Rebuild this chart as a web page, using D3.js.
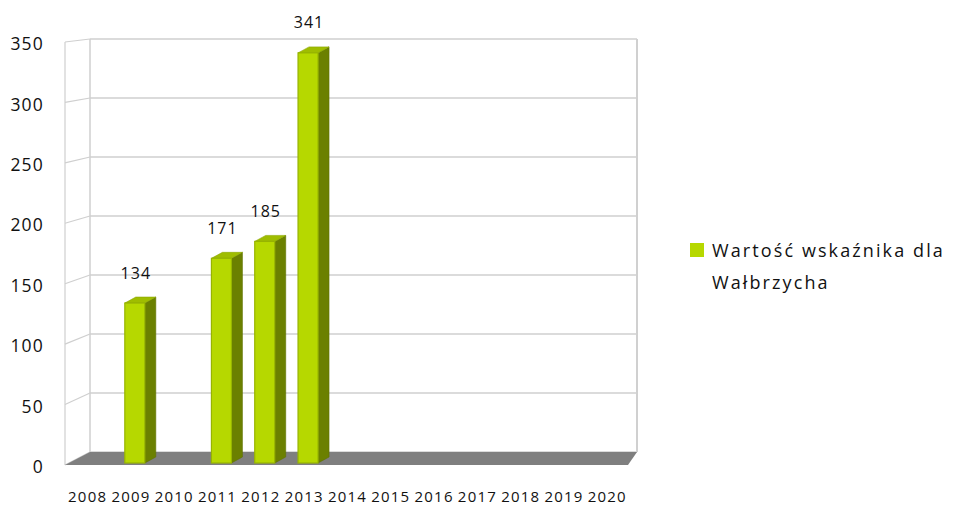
<!DOCTYPE html>
<html>
<head>
<meta charset="utf-8">
<script src="https://cdn.jsdelivr.net/npm/d3@7"></script>
<style>
  html, body { margin: 0; padding: 0; background: #fff; }
  svg { display: block; font-family: "Open Sans", "Liberation Sans", sans-serif; }
</style>
</head>
<body>
<svg id="chart" width="960" height="505"></svg>
<script>
// ---- data ----
const years = ["2008","2009","2010","2011","2012","2013","2014","2015","2016","2017","2018","2019","2020"];
const values = [null, 134, null, 171, 185, 341, null, null, null, null, null, null, null];
const yTicks = [0, 50, 100, 150, 200, 250, 300, 350];
const legendLines = ["Wartość wskaźnika dla", "Wałbrzycha"];

// ---- layout ----
const svg = d3.select("#chart");
const frontLeft = 65, frontRight = 628, backLeft = 90, backRight = 637;
const xFront = d3.scaleBand().domain(years).range([frontLeft, frontRight]);
const yFront = d3.scaleLinear().domain([0, 350]).range([465, 42]);
const yBack  = d3.scaleLinear().domain([0, 350]).range([452, 39]);

const gridColor = "#cfcfcf";
const textColor = "#111";

// back wall gridlines
svg.append("g").selectAll("line").data(yTicks).join("line")
  .attr("x1", backLeft).attr("x2", backRight)
  .attr("y1", d => yBack(d)).attr("y2", d => yBack(d))
  .attr("stroke", gridColor).attr("stroke-width", 1.5);

// left wall gridlines
svg.append("g").selectAll("line").data(yTicks).join("line")
  .attr("x1", frontLeft).attr("x2", backLeft)
  .attr("y1", d => yFront(d)).attr("y2", d => yBack(d))
  .attr("stroke", gridColor).attr("stroke-width", 1.2);

// wall verticals
svg.append("line").attr("x1", frontLeft).attr("x2", frontLeft)
  .attr("y1", yFront(350)).attr("y2", yFront(0))
  .attr("stroke", gridColor).attr("stroke-width", 1.2);
svg.append("line").attr("x1", backLeft).attr("x2", backLeft)
  .attr("y1", yBack(350)).attr("y2", yBack(0))
  .attr("stroke", gridColor).attr("stroke-width", 1.5);
svg.append("line").attr("x1", backRight).attr("x2", backRight)
  .attr("y1", yBack(350)).attr("y2", yBack(0))
  .attr("stroke", "#d0d0d0").attr("stroke-width", 2);

// floor
svg.append("polygon")
  .attr("points", [[backLeft, yBack(0)], [backRight, yBack(0)], [frontRight, yFront(0)], [frontLeft, yFront(0)]].map(p => p.join(",")).join(" "))
  .attr("fill", "#7f7f7f");

// bars
const barOff = 16.5, barW = 20, dx = 11, dy = -6, barBottom = yFront(0) - 2;
const data = years.map((y, i) => ({ year: y, value: values[i] })).filter(d => d.value != null);
const bars = svg.append("g").selectAll("g").data(data).join("g");

bars.append("polygon") // side
  .attr("points", d => {
    const x1 = xFront(d.year) + barOff + barW, t = yFront(d.value);
    return [[x1, t], [x1 + dx, t + dy], [x1 + dx, barBottom + dy], [x1, barBottom]].map(p => p.join(",")).join(" ");
  })
  .attr("fill", "#6b8000").attr("stroke", "#5f7200").attr("stroke-width", 0.6).attr("stroke-linejoin", "round");

bars.append("polygon") // top
  .attr("points", d => {
    const x0 = xFront(d.year) + barOff, x1 = x0 + barW, t = yFront(d.value);
    return [[x0, t], [x0 + dx, t + dy], [x1 + dx, t + dy], [x1, t]].map(p => p.join(",")).join(" ");
  })
  .attr("fill", "#9fbd00").attr("stroke", "#8ca600").attr("stroke-width", 0.6).attr("stroke-linejoin", "round");

bars.append("rect") // front
  .attr("x", d => xFront(d.year) + barOff)
  .attr("y", d => yFront(d.value))
  .attr("width", barW)
  .attr("height", d => barBottom - yFront(d.value))
  .attr("fill", "#b6d800").attr("stroke", "#97b400").attr("stroke-width", 1.2);

// data labels
svg.append("g").selectAll("text").data(data).join("text")
  .attr("x", d => xFront(d.year) + barOff + barW / 2 + 1)
  .attr("y", d => yFront(d.value) - 30)
  .attr("dy", "0.35em")
  .attr("text-anchor", "middle")
  .attr("font-size", 16).attr("letter-spacing", 1)
  .attr("fill", textColor)
  .text(d => d.value);

// y axis labels
svg.append("g").selectAll("text").data(yTicks).join("text")
  .attr("x", 44)
  .attr("y", d => yFront(d) + 2)
  .attr("dy", "0.35em")
  .attr("text-anchor", "end")
  .attr("font-size", 17.5).attr("letter-spacing", 1.2)
  .attr("fill", textColor)
  .text(d => d);

// x axis labels
svg.append("g").selectAll("text").data(years).join("text")
  .attr("x", d => xFront(d) + xFront.bandwidth() / 2 + 1)
  .attr("y", 502)
  .attr("text-anchor", "middle")
  .attr("font-size", 15).attr("letter-spacing", 1.2)
  .attr("fill", textColor)
  .text(d => d);

// legend
const legend = svg.append("g");
legend.append("rect").attr("x", 690).attr("y", 243).attr("width", 14).attr("height", 14).attr("fill", "#b6d800");
legend.selectAll("text").data(legendLines).join("text")
  .attr("x", 712)
  .attr("y", (d, i) => 257 + i * 32)
  .attr("font-size", 18).attr("letter-spacing", 2.1)
  .attr("fill", textColor)
  .text(d => d);
</script>
</body>
</html>
